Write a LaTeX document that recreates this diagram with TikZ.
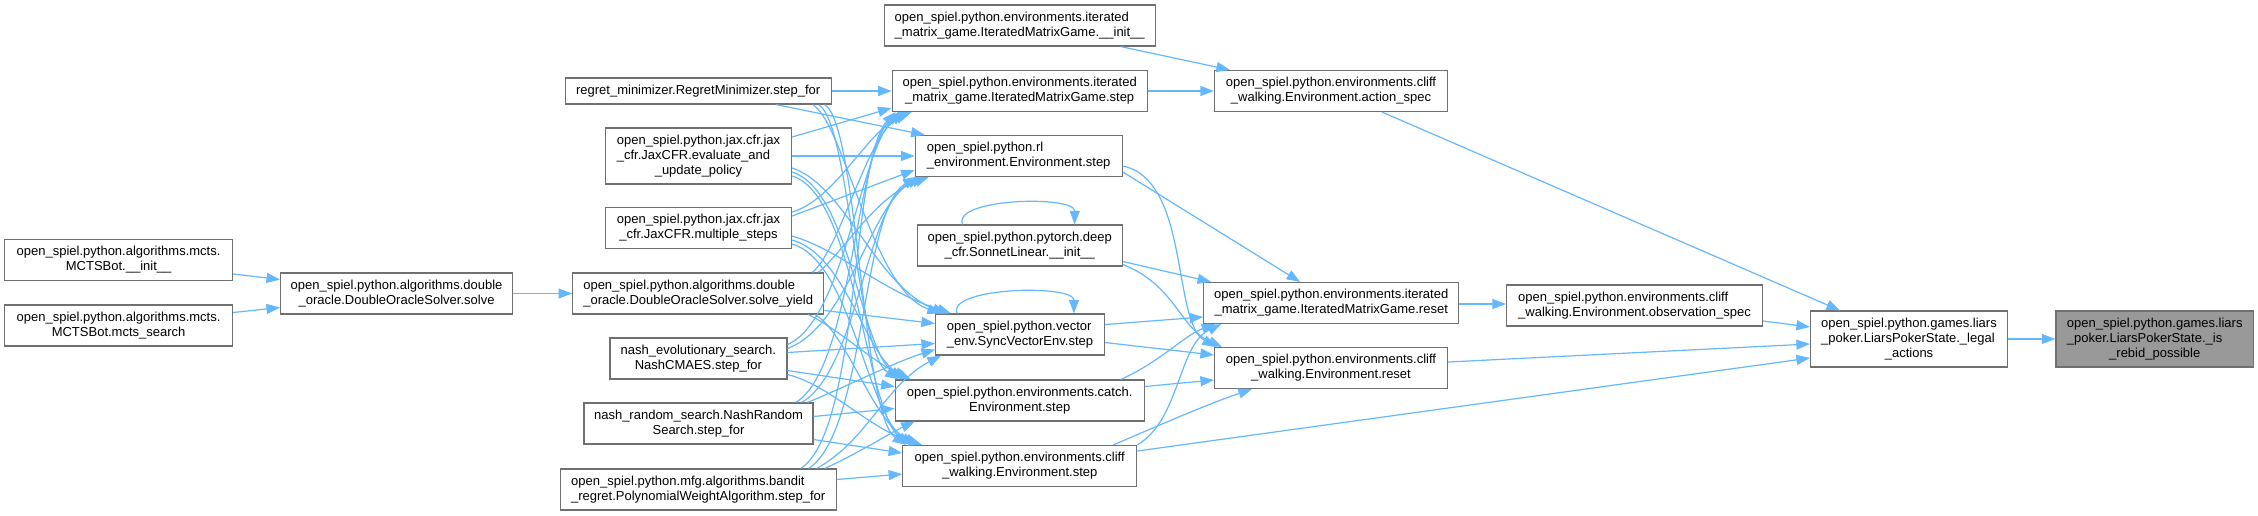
\documentclass[tikz,border=0pt]{standalone}
\usepackage{fontspec}
\setmainfont{Liberation Sans}
\usetikzlibrary{arrows.meta,calc}
\definecolor{edgeblue}{HTML}{63B8FF}
\definecolor{boxgray}{HTML}{707070}
\definecolor{rootgray}{HTML}{999999}
\newcommand\twoln[2]{\begin{tabular}{@{}l@{}}#1\\\multicolumn{1}{@{}c@{}}{#2}\end{tabular}}
\newcommand\threeln[3]{\begin{tabular}{@{}l@{}}#1\\#2\\\multicolumn{1}{@{}c@{}}{#3}\end{tabular}}
\tikzset{
  box/.style={draw=boxgray, line width=1.2pt, fill=white, inner sep=0pt, minimum height=41pt, font=\fontsize{13}{15}\selectfont},
  e/.style={draw=edgeblue, line width=1.2pt, -{Triangle[length=13.5pt,width=10pt]}}
}
\begin{document}
\begin{tikzpicture}[x=1pt,y=-1pt]
\fill[white] (0,0) rectangle (2258,515);
\useasboundingbox (0,0) rectangle (2258,515);

% ---------------- nodes ----------------
\node[box, minimum width=228pt] (mcts_init) at (118.6,260) {\twoln{open\_spiel.python.algorithms.mcts.}{MCTSBot.\_\_init\_\_}};
\node[box, minimum width=228pt] (mcts_search) at (118.6,325.5) {\twoln{open\_spiel.python.algorithms.mcts.}{MCTSBot.mcts\_search}};
\node[box, minimum width=232pt] (solve) at (396.6,293.5) {\twoln{open\_spiel.python.algorithms.double}{\_oracle.DoubleOracleSolver.solve}};

\node[box, minimum width=266pt, minimum height=26pt] (regret) at (698.2,91) {regret\_minimizer.RegretMinimizer.step\_for};
\node[box, minimum width=186pt, minimum height=56pt] (jax_eval) at (698.5,156) {\threeln{open\_spiel.python.jax.cfr.jax}{\_cfr.JaxCFR.evaluate\_and}{\_update\_policy}};
\node[box, minimum width=186pt] (jax_multi) at (698.5,228) {\twoln{open\_spiel.python.jax.cfr.jax}{\_cfr.JaxCFR.multiple\_steps}};
\node[box, minimum width=251pt] (solve_yield) at (698.2,293.5) {\twoln{open\_spiel.python.algorithms.double}{\_oracle.DoubleOracleSolver.solve\_yield}};
\node[box, minimum width=177pt] (nash_evo) at (698.4,358.5) {\twoln{nash\_evolutionary\_search.}{NashCMAES.step\_for}};
\node[box, minimum width=229pt] (nash_random) at (698.5,423.5) {\twoln{nash\_random\_search.NashRandom}{Search.step\_for}};
\node[box, minimum width=276pt] (bandit) at (698.2,489.5) {\twoln{open\_spiel.python.mfg.algorithms.bandit}{\_regret.PolynomialWeightAlgorithm.step\_for}};

\node[box, minimum width=271pt] (iter_init) at (1019.7,25.5) {\twoln{open\_spiel.python.environments.iterated}{\_matrix\_game.IteratedMatrixGame.\_\_init\_\_}};
\node[box, minimum width=255pt] (iter_step) at (1019.7,91) {\twoln{open\_spiel.python.environments.iterated}{\_matrix\_game.IteratedMatrixGame.step}};
\node[box, minimum width=207pt] (rl_step) at (1018.7,156) {\twoln{open\_spiel.python.rl}{\_environment.Environment.step}};
\node[box, minimum width=205pt] (sonnet) at (1019.7,245.5) {\twoln{open\_spiel.python.pytorch.deep}{\_cfr.SonnetLinear.\_\_init\_\_}};
\node[box, minimum width=169pt] (sync_vec) at (1020,334.5) {\twoln{open\_spiel.python.vector}{\_env.SyncVectorEnv.step}};
\node[box, minimum width=249pt] (catch) at (1019.7,400.5) {\twoln{open\_spiel.python.environments.catch.}{Environment.step}};
\node[box, minimum width=234pt] (cliff_step) at (1019.7,466) {\twoln{open\_spiel.python.environments.cliff}{\_walking.Environment.step}};

\node[box, minimum width=233pt] (action_spec) at (1331,91) {\twoln{open\_spiel.python.environments.cliff}{\_walking.Environment.action\_spec}};
\node[box, minimum width=255pt] (iter_reset) at (1331.2,303) {\twoln{open\_spiel.python.environments.iterated}{\_matrix\_game.IteratedMatrixGame.reset}};
\node[box, minimum width=233pt] (cliff_reset) at (1331,368) {\twoln{open\_spiel.python.environments.cliff}{\_walking.Environment.reset}};
\node[box, minimum width=256pt] (obs_spec) at (1634.5,305.5) {\twoln{open\_spiel.python.environments.cliff}{\_walking.Environment.observation\_spec}};
\node[box, minimum width=197pt, minimum height=56pt] (legal) at (1909,339) {\threeln{open\_spiel.python.games.liars}{\_poker.LiarsPokerState.\_legal}{\_actions}};
\node[box, fill=rootgray, minimum width=197.5pt, minimum height=56pt] (rebid) at (2154.7,339) {\threeln{open\_spiel.python.games.liars}{\_poker.LiarsPokerState.\_is}{\_rebid\_possible}};

% ---------------- left edges ----------------
\draw[e] ($(mcts_init.east)+(0,14)$) -- ($(solve.west)+(0,-14)$);
\draw[e] ($(mcts_search.east)+(0,-13)$) -- ($(solve.west)+(0,14)$);
\draw[e] (solve.east) -- (solve_yield.west);

% ---------------- straight caller edges ----------------
\draw[e] (regret.east) -- (iter_step.west);
\draw[e] ($(regret.south)+(78,0)$) -- ($(rl_step.north west)+(10,0)$);
\draw[e] ($(jax_eval.east)+(0,-19)$) -- ($(iter_step.west)+(0,17)$);
\draw[e] (jax_eval.east) -- (rl_step.west);
\draw[e] ($(jax_multi.east)+(0,-12)$) -- ($(rl_step.west)+(0,14)$);
\draw[e] ($(solve_yield.east)+(0,17)$) -- ($(sync_vec.west)+(0,-11)$);
\draw[e] ($(nash_evo.east)+(0,-6)$) -- ($(sync_vec.west)+(0,9)$);
\draw[e] ($(nash_evo.east)+(0,12)$) -- ($(catch.west)+(0,-14)$);
\draw[e] ($(nash_random.east)+(0,-7)$) -- ($(catch.west)+(0,8)$);
\draw[e] ($(nash_random.east)+(0,16)$) -- ($(cliff_step.west)+(0,-13)$);
\draw[e] ($(bandit.east)+(0,-10)$) -- ($(cliff_step.west)+(0,8)$);

% ---------------- curves up to iter_step ----------------
\draw[e] ($(jax_multi.east)+(0,-16)$) .. controls (835,200) and (870,128) .. ($(iter_step.south west)+(20,0)$);
\draw[e] ($(solve_yield.north east)+(-12,0)$) .. controls (840,250) and (866,138) .. ($(iter_step.south west)+(16,0)$);
\draw[e] ($(nash_evo.east)+(0,-14)$) .. controls (845,320) and (861,145) .. ($(iter_step.south west)+(12,0)$);
\draw[e] ($(nash_random.north east)+(-18,0)$) .. controls (852,370) and (856,150) .. ($(iter_step.south west)+(8,0)$);
\draw[e] ($(bandit.north east)+(-36,0)$) .. controls (860,430) and (851,160) .. ($(iter_step.south west)+(4,0)$);

% ---------------- curves up to rl_step ----------------
\draw[e] ($(solve_yield.north east)+(-6,0)$) .. controls (845,250) and (876,196) .. ($(rl_step.south west)+(14,0)$);
\draw[e] ($(nash_evo.east)+(0,-10)$) .. controls (850,325) and (871,200) .. ($(rl_step.south west)+(10,0)$);
\draw[e] ($(nash_random.north east)+(-12,0)$) .. controls (858,370) and (866,205) .. ($(rl_step.south west)+(6,0)$);
\draw[e] ($(bandit.north east)+(-28,0)$) .. controls (866,430) and (861,210) .. ($(rl_step.south west)+(2,0)$);

% ---------------- curves into sync_vec ----------------
\draw[e] ($(regret.south east)+(-19,0)$) .. controls (845,125) and (872,290) .. ($(sync_vec.north west)+(6,0)$);
\draw[e] ($(jax_eval.east)+(0,12)$) .. controls (845,185) and (876,286) .. ($(sync_vec.north west)+(11,0)$);
\draw[e] ($(jax_multi.east)+(0,8)$) .. controls (840,250) and (880,290) .. ($(sync_vec.north west)+(16,0)$);
\draw[e] ($(nash_random.north east)+(-6,0)$) .. controls (850,385) and (895,362) .. ($(sync_vec.west)+(0,15)$);
\draw[e] ($(bandit.north east)+(-20,0)$) .. controls (868,440) and (885,385) .. ($(sync_vec.south west)+(6,0)$);

% ---------------- curves into catch ----------------
\draw[e] ($(regret.south east)+(-13,0)$) .. controls (850,125) and (856,352) .. ($(catch.north west)+(4,0)$);
\draw[e] ($(jax_eval.east)+(0,16)$) .. controls (850,190) and (860,347) .. ($(catch.north west)+(8,0)$);
\draw[e] ($(jax_multi.east)+(0,12)$) .. controls (845,255) and (864,350) .. ($(catch.north west)+(12,0)$);
\draw[e] ($(solve_yield.south east)+(-16,0)$) .. controls (840,330) and (870,360) .. ($(catch.north west)+(16,0)$);
\draw[e] ($(bandit.north east)+(-12,0)$) .. controls (855,455) and (892,432) .. ($(catch.south west)+(20,0)$);

% ---------------- curves into cliff_step ----------------
\draw[e] ($(regret.south east)+(-7,0)$) .. controls (858,125) and (862,415) .. ($(cliff_step.north west)+(4,0)$);
\draw[e] ($(jax_eval.east)+(0,20)$) .. controls (856,195) and (866,412) .. ($(cliff_step.north west)+(8,0)$);
\draw[e] ($(jax_multi.east)+(0,16)$) .. controls (850,260) and (868,415) .. ($(cliff_step.north west)+(12,0)$);
\draw[e] ($(solve_yield.south east)+(-9,0)$) .. controls (848,335) and (872,420) .. ($(cliff_step.north west)+(16,0)$);
\draw[e] ($(nash_evo.east)+(0,16)$) .. controls (830,385) and (868,428) .. ($(cliff_step.north west)+(20,0)$);

% ---------------- self loops ----------------
\draw[e] ($(sonnet.north west)+(46,0)$) .. controls (952,198) and (1075,195) .. ($(sonnet.north west)+(158,0)$);
\draw[e] ($(sync_vec.north west)+(22,0)$) .. controls (947,287) and (1074,284) .. ($(sync_vec.north west)+(139,0)$);

% ---------------- step -> reset / spec ----------------
\draw[e] ($(rl_step.east)+(0,16)$) -- ($(iter_reset.north west)+(97,0)$);
\draw[e] ($(rl_step.east)+(0,10)$) .. controls (1190,180) and (1172,322) .. ($(cliff_reset.north west)+(2,0)$);
\draw[e] ($(sonnet.east)+(0,16)$) -- ($(iter_reset.north west)+(8,0)$);
\draw[e] ($(sonnet.east)+(0,19)$) .. controls (1175,285) and (1180,328) .. ($(cliff_reset.north west)+(8,0)$);
\draw[e] ($(sync_vec.east)+(0,-10)$) -- ($(iter_reset.west)+(0,14)$);
\draw[e] ($(sync_vec.east)+(0,8)$) -- ($(cliff_reset.west)+(0,-13)$);
\draw[e] ($(catch.north east)+(-24,0)$) .. controls (1160,362) and (1185,335) .. ($(iter_reset.south west)+(12,0)$);
\draw[e] ($(catch.east)+(0,-14)$) -- ($(cliff_reset.west)+(0,12)$);
\draw[e] (cliff_step.north east) .. controls (1180,420) and (1178,345) .. ($(iter_reset.south west)+(18,0)$);
\draw[e] ($(cliff_step.north east)+(-24,0)$) .. controls (1160,425) and (1205,405) .. ($(cliff_reset.south west)+(38,0)$);
\draw[e] ($(cliff_step.east)+(0,-15)$) -- ($(legal.west)+(0,19)$);
\draw[e] ($(iter_init.south east)+(-35,0)$) -- ($(action_spec.north west)+(16,0)$);
\draw[e] (iter_step.east) -- (action_spec.west);

% ---------------- right part ----------------
\draw[e] ($(action_spec.south east)+(-66,0)$) -- ($(legal.north west)+(30,0)$);
\draw[e] ($(iter_reset.east)+(0,1)$) -- ($(obs_spec.west)+(0,-1.5)$);
\draw[e] ($(obs_spec.east)+(0,15.5)$) -- ($(legal.west)+(0,-12)$);
\draw[e] ($(cliff_reset.east)+(0,-6)$) -- ($(legal.west)+(0,5)$);
\draw[e] (legal.east) -- (rebid.west);
\end{tikzpicture}
\end{document}
